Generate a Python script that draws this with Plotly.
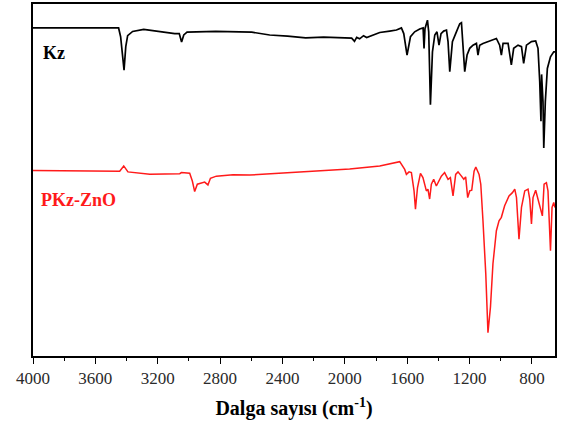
import plotly.graph_objects as go

# FTIR spectra: wavenumber (cm-1) vs. transmittance (a.u., stacked)
kz_wn = [4000, 3451, 3438, 3416, 3405, 3393, 3361, 3290, 3091, 3062, 3047, 3033, 3012,
         2828, 2597, 2482, 2367, 2251, 2136, 1995, 1956, 1938, 1924, 1905, 1880, 1860,
         1834, 1808, 1776, 1712, 1669, 1637, 1622, 1601, 1579, 1552, 1520, 1498, 1492,
         1486, 1470, 1462, 1451, 1438, 1423, 1409, 1396, 1383, 1366, 1348, 1338, 1327,
         1310, 1289, 1263, 1252, 1242, 1231, 1216, 1199, 1178, 1156, 1146, 1135, 1114,
         1071, 1028, 1007, 996, 985, 953, 932, 917, 889, 867, 853, 835, 803, 776, 761,
         750, 742, 738, 729, 724, 714, 701, 681, 660, 652]
kz_t = [93.2, 93.2, 90.7, 81.2, 87.9, 91.0, 92.2, 92.8, 91.6, 91.6, 89.2, 91.2, 92.0,
        92.2, 92.0, 91.2, 90.9, 90.4, 90.6, 90.4, 90.3, 89.4, 90.5, 90.1, 91.0, 90.5,
        90.9, 91.4, 91.9, 92.3, 92.6, 93.2, 91.6, 85.5, 90.7, 92.1, 92.9, 93.2, 87.4,
        93.0, 95.4, 92.1, 71.4, 86.4, 91.2, 92.1, 88.3, 91.6, 92.3, 92.6, 89.3, 80.8,
        89.3, 91.6, 94.4, 94.7, 86.4, 80.8, 85.5, 87.4, 88.3, 88.8, 85.5, 88.3, 88.8,
        89.5, 90.2, 88.3, 85.5, 88.8, 88.8, 82.7, 87.4, 88.3, 87.9, 83.1, 88.3, 89.3, 89.5,
        87.4, 78.0, 66.7, 80.0, 72.3, 59.1, 72.3, 81.7, 85.0, 86.4, 86.4]

pkz_wn = [4000, 3444, 3418, 3391, 3251, 3059, 3048, 2995, 2978, 2963, 2946, 2920, 2899,
          2878, 2862, 2824, 2717, 2610, 2289, 1969, 1776, 1648, 1616, 1605, 1588, 1573,
          1556, 1547, 1534, 1515, 1499, 1477, 1467, 1456, 1445, 1430, 1413, 1396, 1381,
          1360, 1338, 1323, 1306, 1289, 1274, 1252, 1237, 1225, 1212, 1199, 1186, 1171,
          1160, 1139, 1128, 1114, 1096, 1082, 1066, 1050, 1028, 1011, 996, 975, 947, 925,
          910, 899, 883, 867, 846, 825, 814, 803, 793, 776, 755, 733, 722, 707, 697, 681,
          671, 660, 652]
pkz_t = [52.7, 52.5, 54.0, 52.3, 51.6, 51.8, 52.1, 51.9, 49.7, 46.7, 48.8, 49.2, 49.4,
         48.6, 50.5, 51.1, 51.5, 51.4, 52.3, 53.1, 54.0, 55.2, 53.0, 51.6, 52.3, 52.1,
         46.9, 41.7, 47.8, 51.9, 50.7, 46.9, 47.4, 44.6, 48.8, 50.2, 48.3, 49.7, 51.1,
         52.1, 50.2, 50.7, 45.5, 51.6, 52.3, 51.1, 50.2, 50.9, 45.0, 46.9, 47.1, 52.5,
         53.7, 51.6, 48.8, 38.4, 23.4, 6.6, 13.9, 26.2, 35.6, 38.4, 39.4, 42.7, 45.5, 46.4,
         47.4, 45.0, 33.2, 42.2, 46.9, 47.4, 44.6, 37.5, 45.0, 47.1, 43.6, 39.8, 48.8, 49.2,
         46.9, 29.9, 42.2, 43.6, 42.2]

major_ticks = [4000, 3600, 3200, 2800, 2400, 2000, 1600, 1200, 800]

serif = "Liberation Serif"

fig = go.Figure()
fig.add_trace(go.Scatter(x=kz_wn, y=kz_t, mode="lines", name="Kz",
                         line=dict(color="black", width=1.7)))
fig.add_trace(go.Scatter(x=pkz_wn, y=pkz_t, mode="lines", name="PKz-ZnO",
                         line=dict(color="#ff1a1a", width=1.5)))

fig.add_annotation(x=0.016, y=0.862, xref="paper", yref="paper", text="<b>Kz</b>",
                   showarrow=False, xanchor="left", yanchor="middle",
                   font=dict(family=serif, size=18, color="black"))
fig.add_annotation(x=0.012, y=0.443, xref="paper", yref="paper", text="<b>PKz-ZnO</b>",
                   showarrow=False, xanchor="left", yanchor="middle",
                   font=dict(family=serif, size=18, color="#ff1a1a"))

fig.update_layout(
    width=563, height=427,
    margin=dict(l=33, r=8, t=2, b=71),
    paper_bgcolor="white", plot_bgcolor="white",
    showlegend=False,
    font=dict(family=serif, color="black"),
    xaxis=dict(
        range=[4000, 652], tickvals=major_ticks, ticktext=[str(v) for v in major_ticks],
        ticks="outside", ticklen=6, tickwidth=1.3, tickcolor="black",
        minor=dict(dtick=200, tick0=0, ticks="outside", ticklen=3, tickwidth=1.3, tickcolor="black"),
        showline=True, linecolor="black", linewidth=1.5, mirror=True,
        showgrid=False, zeroline=False,
        tickfont=dict(family=serif, size=17, color="#2a2a2a"),
        title=dict(text="<b>Dalga sayısı (cm<sup>-1</sup>)</b>",
                   font=dict(family=serif, size=20, color="black"), standoff=14),
    ),
    yaxis=dict(
        range=[0, 100], showticklabels=False, ticks="",
        showline=True, linecolor="black", linewidth=1.5, mirror=True,
        showgrid=False, zeroline=False,
    ),
)

fig.write_html("out.html")
